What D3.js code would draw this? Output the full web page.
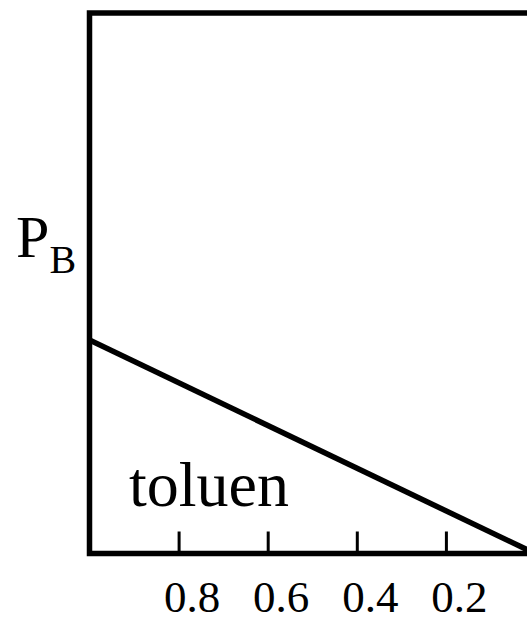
<!DOCTYPE html>
<html>
<head>
<meta charset="utf-8">
<script src="https://cdn.jsdelivr.net/npm/d3@7"></script>
<style>
  body { margin: 0; background: #fff; }
  svg { display: block; font-family: "Liberation Serif", "Times New Roman", serif; }
</style>
</head>
<body>
<div id="chart"></div>
<script>
// mole fraction (axis runs 1 -> 0) and partial pressure of toluene
const xFrac = [1, 0];
const pToluen = [0.395, 0];
const tickValues = [0.8, 0.6, 0.4, 0.2];
const tickLabels = ["0.8", "0.6", "0.4", "0.2"];

const width = 527;
const height = 619;

const svg = d3.select('#chart')
    .append('svg')
    .attr('width', width)
    .attr('height', height);

const x = d3.scaleLinear()
    .domain([1, 0])
    .range([89.5, 535]);

const y = d3.scaleLinear()
    .domain([0, 1])
    .range([553.5, 13]);

// frame (right side runs off the picture)
svg.append('path')
    .attr('d', `M${x(0) + 20},${y(1)} H${x(1)} V${y(0)} H${x(0) + 20}`)
    .attr('fill', 'none')
    .attr('stroke', '#000')
    .attr('stroke-width', 5.5);

// x axis ticks
const xAxis = d3.axisBottom(x)
    .tickValues(tickValues)
    .tickFormat((d, i) => tickLabels[i])
    .tickSizeInner(-22)
    .tickSizeOuter(0);

const gx = svg.append('g')
    .attr('transform', `translate(0,${y(0)})`)
    .call(xAxis);

gx.select('.domain').remove();
gx.selectAll('.tick line')
    .attr('stroke', '#000')
    .attr('stroke-width', 3);
gx.selectAll('.tick text')
    .attr('y', 58)
    .attr('dy', 0)
    .attr('dx', 13)
    .attr('fill', '#000')
    .attr('font-size', 45)
    .attr('font-family', '"Liberation Serif", "Times New Roman", serif');

// line
const line = d3.line()
    .x((d, i) => x(xFrac[i]))
    .y(d => y(d));

svg.append('path')
    .datum(pToluen)
    .attr('d', line)
    .attr('fill', 'none')
    .attr('stroke', '#000')
    .attr('stroke-width', 5.5);

// labels
const pLabel = svg.append('text')
    .attr('x', 16)
    .attr('y', 257)
    .attr('font-size', 60);
pLabel.append('tspan').text('P');
pLabel.append('tspan')
    .attr('font-size', 40)
    .attr('dy', 16)
    .text('B');

svg.append('text')
    .attr('x', 129)
    .attr('y', 506)
    .attr('font-size', 64)
    .text('toluen');
</script>
</body>
</html>
